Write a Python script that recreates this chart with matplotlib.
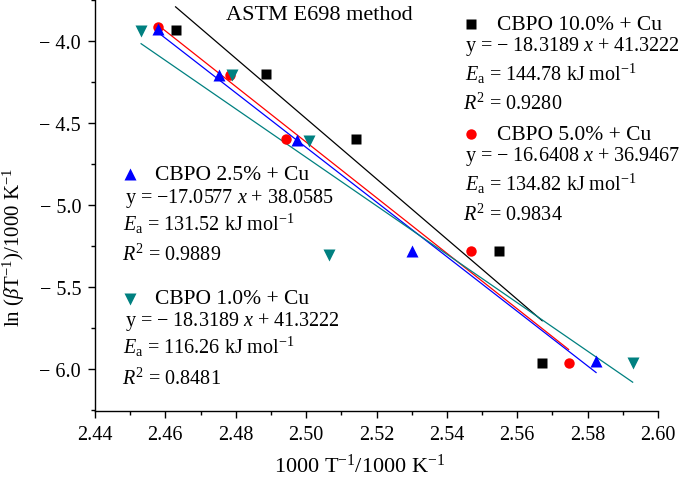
import numpy as np
import matplotlib
matplotlib.use('Agg')
import matplotlib.pyplot as plt
from matplotlib.ticker import MultipleLocator, FixedLocator, FixedFormatter

plt.rcParams['font.family'] = ['Liberation Serif', 'DejaVu Serif']
plt.rcParams['mathtext.fontset'] = 'custom'
plt.rcParams['mathtext.rm'] = 'Liberation Serif'
plt.rcParams['mathtext.it'] = 'Liberation Serif:italic'
plt.rcParams['mathtext.bf'] = 'Liberation Serif:bold'

# data (1000/T, ln(beta/T))
x10 = [2.4629, 2.4886, 2.5141, 2.5548, 2.5671]
y10 = [-3.933, -4.203, -4.599, -5.279, -5.965]
x5  = [2.4580, 2.4784, 2.4942, 2.5468, 2.5746]
y5  = [-3.918, -4.209, -4.599, -5.280, -5.963]
x25 = [2.4580, 2.4753, 2.4973, 2.5302, 2.5824]
y25 = [-3.926, -4.209, -4.603, -5.279, -5.953]
x1  = [2.4531, 2.4789, 2.5008, 2.5066, 2.5928]
y1  = [-3.939, -4.211, -4.609, -5.306, -5.963]

xticks = [2.44, 2.46, 2.48, 2.50, 2.52, 2.54, 2.56, 2.58, 2.60]
yticks = [-4.0, -4.5, -5.0, -5.5, -6.0]
yticklabels = ['\u2212 4.0', '\u2212 4.5', '\u2212 5.0', '\u2212 5.5', '\u2212 6.0']

series = [
    (x10, y10, 's', 'black', 6.5),
    (x5, y5, 'o', 'red', 7.5),
    (x25, y25, '^', 'blue', 8.5),
    (x1, y1, 'v', '#008080', 8.5),
]

W, H = 685, 485
fig = plt.figure(figsize=(W / 100, H / 100), dpi=100)
ax = fig.add_axes([95 / W, 1 - 411.7 / H, 563 / W, 411.7 / H])

# fit lines over each series range
for xs, ys, m, c, ms in series:
    p = np.polyfit(xs, ys, 1)
    xx = np.array([min(xs), max(xs)])
    ax.plot(xx, np.polyval(p, xx), '-', color=c, lw=0.9, zorder=2)
for xs, ys, m, c, ms in series:
    ax.plot(xs, ys, m, color=c, ms=ms, mec='none', zorder=3, clip_on=False)

ax.set_xlim(2.44, 2.60)
ax.set_ylim(-6.254, -3.746)
ax.xaxis.set_major_locator(FixedLocator(xticks))
ax.xaxis.set_minor_locator(MultipleLocator(0.01))
ax.yaxis.set_major_locator(FixedLocator(yticks))
ax.yaxis.set_major_formatter(FixedFormatter(yticklabels))
ax.yaxis.set_minor_locator(MultipleLocator(0.25))
ax.xaxis.set_major_formatter(plt.FuncFormatter(lambda v, pos: '%.2f' % v))
ax.tick_params(which='major', direction='out', length=5, width=1, labelsize=14.5, pad=5)
ax.tick_params(which='minor', direction='out', length=3, width=1)
ax.spines['top'].set_visible(False)
ax.spines['right'].set_visible(False)
for s in ['left', 'bottom']:
    ax.spines[s].set_linewidth(1)

ax.set_xlabel(r'1000 T$^{-1}$/1000 K$^{-1}$', fontsize=16)
ax.set_ylabel(r'ln ($\beta$T$^{-1}$)/1000 K$^{-1}$', fontsize=15)
ax.xaxis.set_label_coords(0.47, -0.105)
ax.yaxis.set_label_coords(-0.12, 0.40)


def ftext(px, py, s, size=14.5):
    fig.text(px / W, 1 - py / H, s, va='center', ha='left', fontsize=size)


def fmark(px, py, m, c, ms):
    ax.plot([px / W], [1 - py / H], m, color=c, ms=ms, mec='none',
            transform=fig.transFigure, clip_on=False)


fig.text(319 / W, 1 - 15 / H, 'ASTM E698 method', ha='center', va='center', fontsize=16)

# CBPO 10.0%
fmark(471, 25, 's', 'black', 6.5)
ftext(497, 25, 'CBPO 10.0% + Cu', 15.5)
ftext(465, 47, 'y = \u2212 18.3189 $x$ + 41.3222')
ftext(465, 74, r'$E_{\rm a}$ = 144.78 kJ mol$^{-1}$')
ftext(463, 104, r'$R^2$ = 0.9280')

# CBPO 5.0%
fmark(471, 135, 'o', 'red', 7.5)
ftext(497, 135, 'CBPO 5.0% + Cu', 15.5)
ftext(465, 157, 'y = \u2212 16.6408 $x$ + 36.9467')
ftext(465, 184, r'$E_{\rm a}$ = 134.82 kJ mol$^{-1}$')
ftext(463, 215, r'$R^2$ = 0.9834')

# CBPO 2.5%
fmark(130, 175, '^', 'blue', 8.5)
ftext(155, 175, 'CBPO 2.5% + Cu', 15.5)
ftext(125, 199, 'y = \u221217.0577 $x$ + 38.0585')
ftext(123, 224, r'$E_{\rm a}$ = 131.52 kJ mol$^{-1}$')
ftext(122, 255, r'$R^2$ = 0.9889')

# CBPO 1.0%
fmark(130, 300, 'v', '#008080', 8.5)
ftext(155, 300, 'CBPO 1.0% + Cu', 15.5)
ftext(125, 322, 'y = \u2212 18.3189 $x$ + 41.3222')
ftext(123, 347, r'$E_{\rm a}$ = 116.26 kJ mol$^{-1}$')
ftext(122, 379, r'$R^2$ = 0.8481')

fig.savefig('out.png', dpi=100)
